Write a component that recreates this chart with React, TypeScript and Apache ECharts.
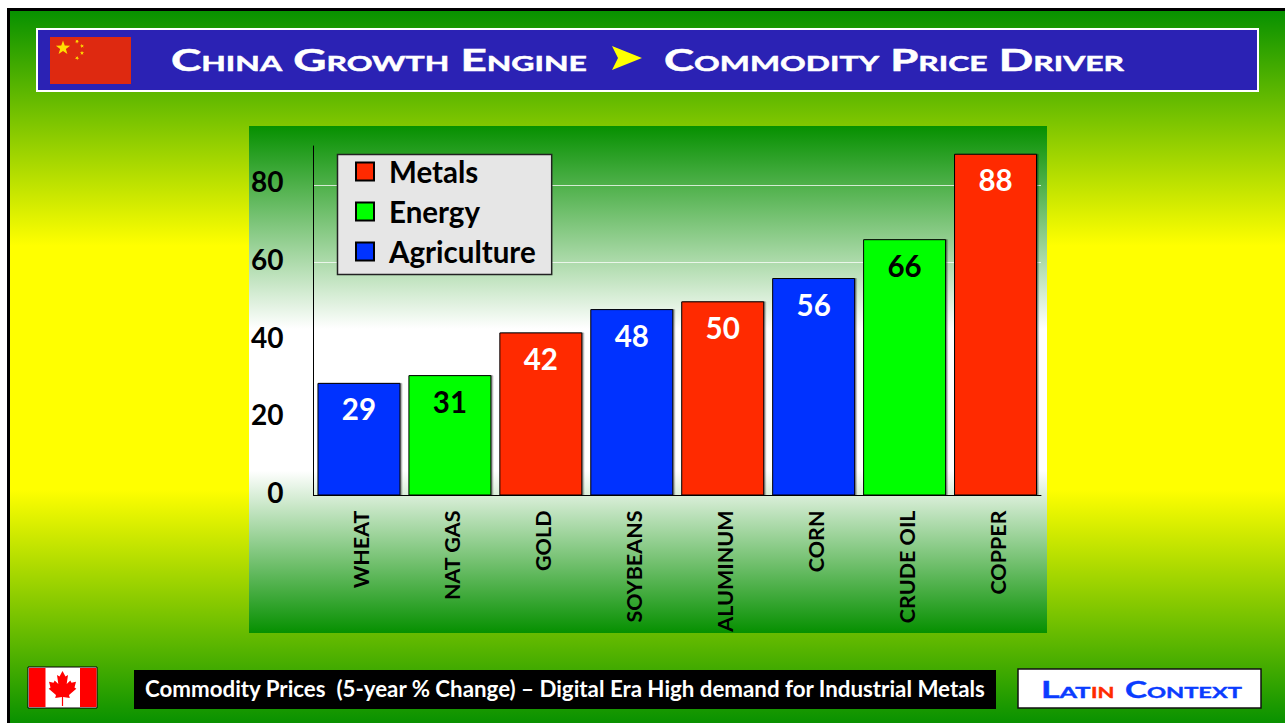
import React, { useEffect, useRef } from "react";
import * as echarts from "echarts";

const categories = ["WHEAT", "NAT GAS", "GOLD", "SOYBEANS", "ALUMINUM", "CORN", "CRUDE OIL", "COPPER"];
const metals = [null, null, 42, null, 50, null, null, 88];
const energy = [null, 31, null, null, null, null, 66, null];
const agriculture = [29, null, null, 48, null, 56, null, null];
const yTicksMax = 90;
const FONT = "Lato, Carlito, sans-serif";
const RED = "#ff2a00";
const GREEN = "#00ff00";
const BLUE = "#0033ff";

function star(cx: number, cy: number, r: number, rot = 0) {
  const pts: number[][] = [];
  for (let i = 0; i < 10; i++) {
    const rad = i % 2 === 0 ? r : r * 0.4;
    const a = -Math.PI / 2 + rot + (i * Math.PI) / 5;
    pts.push([cx + rad * Math.cos(a), cy + rad * Math.sin(a)]);
  }
  return { type: "polygon", shape: { points: pts }, style: { fill: "#ffde00" }, z: 1 };
}

const leafHalf = [
  [0, 0], [3, 5.5], [5.5, 4], [4.2, 13], [7.8, 9.5], [9, 11.8], [13.5, 10.8], [12, 16.5], [13.8, 17.8],
  [6.5, 24], [7.3, 27], [0.6, 26], [0.6, 35],
];
function leaf(cx: number, top: number) {
  const r = leafHalf.map(([x, y]) => [cx + x, top + y]);
  const l = leafHalf.map(([x, y]) => [cx - x, top + y]).reverse();
  return { type: "polygon", shape: { points: [...r, ...l] }, style: { fill: "#ff0000" }, z: 1 };
}

const vGrad = (stops: [number, string][]) =>
  new echarts.graphic.LinearGradient(0, 0, 0, 1, stops.map(([offset, color]) => ({ offset, color })));

const TITLE = "small-caps bold 30px Lato";
const BRAND = "small-caps bold 22px Lato";

export default function App() {
  const ref = useRef<HTMLDivElement>(null);
  useEffect(() => {
    document.body.style.margin = "0";
    const chart = echarts.init(ref.current!, null, { renderer: "svg" });
    const barSeries = (name: string, data: (number | null)[], color: string, labelColor: string) => ({
      name,
      type: "bar",
      data,
      barWidth: 83,
      barGap: "-100%",
      itemStyle: { color, borderColor: "#000", borderWidth: 1, shadowColor: "rgba(0,0,0,0.4)", shadowBlur: 1, shadowOffsetX: 1.5, shadowOffsetY: 0 },
      label: { show: true, position: "insideTop", distance: 11, color: labelColor, fontFamily: FONT, fontWeight: "bold", fontSize: 29.5 },
    });
    chart.setOption({
      animation: false,
      graphic: [
        { type: "rect", z: -20, shape: { x: 8.5, y: 9.5, width: 1300, height: 716 }, style: { fill: vGrad([[0, "#069000"], [0.33, "#ffff00"], [0.67, "#ffff00"], [1, "#069000"]]), stroke: "#000", lineWidth: 3 } },
        { type: "rect", z: -10, shape: { x: 249, y: 126, width: 798, height: 507 }, style: { fill: vGrad([[0, "#069000"], [0.4, "#ffffff"], [0.68, "#ffffff"], [1, "#069000"]]) } },
        { type: "rect", z: 0, shape: { x: 37, y: 29, width: 1221, height: 62 }, style: { fill: "#2b22b4", stroke: "#fff", lineWidth: 2 } },
        { type: "rect", z: 1, shape: { x: 50, y: 37, width: 81, height: 47 }, style: { fill: "#de2910" } },
        star(63, 48, 7.5), star(77, 41.5, 2.2, 0.6), star(82, 46, 2.2, 1), star(82, 53, 2.2, 0), star(77, 58, 2.2, 0.5),
        { type: "text", z: 1, x: 171, y: 59, scaleX: 1.525, style: { text: "China Growth Engine", font: TITLE, fill: "#fff", stroke: "#fff", lineWidth: 0.5, verticalAlign: "middle" } },
        { type: "polygon", z: 1, shape: { points: [[612, 46], [642, 58], [612, 70], [618, 58]] }, style: { fill: "#ffff00" } },
        { type: "text", z: 1, x: 664, y: 59, scaleX: 1.514, style: { text: "Commodity Price Driver", font: TITLE, fill: "#fff", stroke: "#fff", lineWidth: 0.5, verticalAlign: "middle" } },
        { type: "rect", z: 0, shape: { x: 28, y: 667, width: 69, height: 41 }, style: { fill: "#fff", stroke: "#000", lineWidth: 1 } },
        { type: "rect", z: 1, shape: { x: 29, y: 668, width: 16.5, height: 39 }, style: { fill: "#ff0000" } },
        { type: "rect", z: 1, shape: { x: 80, y: 668, width: 16.5, height: 39 }, style: { fill: "#ff0000" } },
        leaf(62.5, 671),
        { type: "rect", z: 0, shape: { x: 134, y: 670, width: 862, height: 39 }, style: { fill: "#000" } },
        { type: "text", z: 1, x: 145, y: 688, style: { text: "Commodity Prices  (5-year % Change) \u2013 Digital Era High demand for Industrial Metals", fontFamily: FONT, fontWeight: "bold", fontSize: 22.3, fill: "#fff", verticalAlign: "middle" } },
        { type: "rect", z: 0, shape: { x: 1018, y: 669, width: 243, height: 39 }, style: { fill: "#fff", stroke: "#111", lineWidth: 1.5 } },
        { type: "text", z: 1, x: 1041, y: 689, scaleX: 1.62, style: { text: "Lat", font: BRAND, fill: "#0a3cff", stroke: "#0a3cff", lineWidth: 0.4, verticalAlign: "middle" } },
        { type: "text", z: 1, x: 1091, y: 689, scaleX: 1.42, style: { text: "in", font: BRAND, fill: "#ff2a00", stroke: "#ff2a00", lineWidth: 0.4, verticalAlign: "middle" } },
        { type: "text", z: 1, x: 1125, y: 689, scaleX: 1.51, style: { text: "Context", font: BRAND, fill: "#0a3cff", stroke: "#0a3cff", lineWidth: 0.4, verticalAlign: "middle" } },
      ],
      legend: {
        orient: "vertical",
        left: 337.5,
        top: 154.5,
        padding: [2, 16, 8, 17.5],
        itemWidth: 18,
        itemHeight: 18,
        itemGap: 10,
        icon: "rect",
        backgroundColor: "#e6e6e6",
        borderColor: "#222",
        borderWidth: 1.5,
        selectedMode: false,
        textStyle: { fontFamily: FONT, fontWeight: "bold", fontSize: 29.5, color: "#000", padding: [0, 0, 0, 10] },
        data: ["Metals", "Energy", "Agriculture"],
      },
      grid: { left: 313.5, right: 244, top: 146, bottom: 227.5 },
      xAxis: {
        type: "category",
        data: categories,
        axisLine: { lineStyle: { color: "#000", width: 1 } },
        axisTick: { show: false },
        axisLabel: { rotate: 90, margin: 15, fontFamily: FONT, fontWeight: "bold", fontSize: 21.5, color: "#000", interval: 0, verticalAlign: "top", lineHeight: 4 },
      },
      yAxis: {
        type: "value",
        min: 0,
        max: yTicksMax,
        interval: 20,
        axisLine: { show: true, lineStyle: { color: "#000", width: 1 } },
        axisTick: { show: false },
        axisLabel: { showMaxLabel: false, margin: 30, fontFamily: FONT, fontWeight: "bold", fontSize: 28, color: "#000", verticalAlign: "bottom", lineHeight: 7 },
        splitLine: { show: true, showMaxLine: false, lineStyle: { color: "rgba(255,255,255,0.75)", width: 1 } },
      },
      series: [
        barSeries("Metals", metals, RED, "#fff"),
        barSeries("Energy", energy, GREEN, "#000"),
        barSeries("Agriculture", agriculture, BLUE, "#fff"),
      ],
    });
    return () => chart.dispose();
  }, []);
  return <div ref={ref} style={{ width: 1285, height: 723, overflow: "hidden", background: "#fff" }} />;
}
